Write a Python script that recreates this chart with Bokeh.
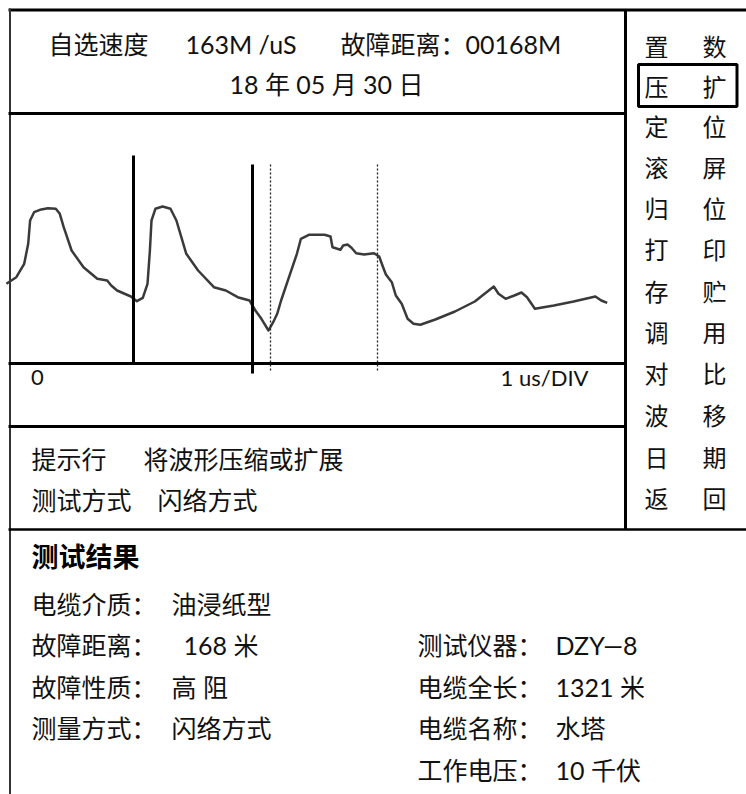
from bokeh.plotting import figure
from bokeh.models import Range1d
from bokeh.embed import file_html
from bokeh.resources import INLINE
from bokeh.core.properties import value

# ---------------- data ----------------
speed_text = "163M /uS"
fault_distance_text = "00168M"
date_year, date_month, date_day = "18", "05", "30"

menu_left = ["置", "压", "定", "滚", "归", "打", "存", "调", "对", "波", "日", "返"]
menu_right = ["数", "扩", "位", "屏", "位", "印", "贮", "用", "比", "移", "期", "回"]

# waveform: sample position and amplitude above the baseline
wave_x = [5.9, 15.8, 23.7, 27.7, 29.6, 33.6, 39.5, 47.4, 55.3, 59.3, 63.2, 71.1, 83.0, 96.8,
          106.7, 110.7, 116.6, 130.4, 136.4, 142.3, 147.0, 149.4, 151.0, 154.9, 162.1, 170.0,
          175.9, 185.8, 197.6, 213.4, 225.3, 237.2, 249.0, 254.9, 260.9, 268.0, 272.7, 276.7,
          280.6, 288.5, 296.4, 300.4, 308.3, 324.1, 330.0, 332.0, 339.9, 342.7, 347.0, 351.0,
          355.7, 363.6, 373.5, 378.7, 382.6, 385.4, 391.3, 395.3, 401.2, 407.1, 413.0, 419.8,
          434.8, 454.5, 474.3, 493.3, 498.0, 505.1, 513.8, 521.0, 526.5, 534.4, 553.4, 573.1,
          594.9, 600.8, 606.7]
wave_amp = [79.7, 86.3, 99.7, 119.7, 143.0, 151.3, 153.7, 155.3, 154.7, 149.7, 136.3, 113.0,
            96.3, 84.7, 83.0, 78.0, 73.0, 67.0, 62.3, 65.7, 79.7, 113.0, 143.0, 154.7, 157.0,
            154.7, 143.0, 109.7, 93.0, 76.3, 73.0, 66.3, 63.0, 53.0, 44.7, 33.0, 41.3, 49.7,
            63.0, 86.3, 109.7, 124.7, 128.7, 128.7, 127.0, 116.3, 113.7, 118.0, 119.0, 115.7,
            110.3, 109.0, 110.3, 107.0, 96.3, 89.0, 81.3, 68.0, 59.7, 44.7, 39.7, 38.7, 44.0,
            52.0, 62.0, 77.0, 69.7, 64.7, 68.0, 71.0, 66.3, 54.7, 58.0, 62.0, 67.0, 63.0, 60.7]

cursor_solid = [133, 252]
cursor_dotted = [270, 377]

axis_start_label = "0"
axis_scale_label = "1 us/DIV"

hint_label = "提示行"
hint_text = "将波形压缩或扩展"
mode_label = "测试方式"
mode_text = "闪络方式"

result_title = "测试结果"
left_labels = ["电缆介质：", "故障距离：", "故障性质：", "测量方式："]
left_values = ["油浸纸型", "168 米", "高  阻", "闪络方式"]
right_labels = ["测试仪器：", "电缆全长：", "电缆名称：", "工作电压："]
right_values = ["DZY—8", "1321 米", "水塔", "10 千伏"]

# ---------------- figure ----------------
W, H = 746, 794
p = figure(width=W, height=H, output_backend="svg", toolbar_location=None,
           x_range=Range1d(0, W), y_range=Range1d(H, 0),
           x_axis_type=None, y_axis_type=None, min_border=0,
           outline_line_color=None, background_fill_color="white")
p.grid.visible = False

BASE = 363
p.extra_y_ranges = {"amp": Range1d(BASE - H, BASE)}

FONT = "Lato, 'Noto Sans CJK SC', sans-serif"
CJK = "'Noto Sans CJK SC', sans-serif"


def txt(x, y, s, size=25, align="left", bold=False, font=FONT, color="#111111"):
    p.text(x=[x], y=[y], text=[s], text_font=value(font), text_font_size=f"{size}px",
           text_align=align, text_baseline="middle", text_color=color,
           text_font_style="bold" if bold else "normal")


def hline(y, x0, x1, w=3, color="black"):
    p.line([x0, x1], [y, y], line_width=w, line_color=color)


def vline(x, y0, y1, w=3, color="black", dash="solid"):
    p.line([x, x], [y0, y1], line_width=w, line_color=color, line_dash=dash)


# frame lines
hline(9.5, 8, 746, 3)
vline(9.5, 8, 794, 2, color="#333333")
vline(625, 9, 529, 3)
hline(113, 8, 625, 3)
hline(363, 8, 625, 3)
hline(426, 8, 625, 3)
hline(529, 8, 746, 2.5)

# selected menu box
p.quad(left=[638], right=[736.5], top=[64], bottom=[106], fill_color=None,
       line_color="black", line_width=3)

# header
txt(48, 43, "自选速度")
txt(185, 43, speed_text)
txt(340, 43, "故障距离：" + fault_distance_text)
txt(326, 83, f"{date_year} 年 {date_month} 月 {date_day} 日", align="center")

# menu
menu_y = [45, 85, 125, 166, 207, 248, 290, 331, 372, 414, 456, 497]
for yy, a, b in zip(menu_y, menu_left, menu_right):
    txt(656, yy, a, size=24, align="center", font=CJK)
    txt(714, yy, b, size=24, align="center", font=CJK)

# waveform
p.line(wave_x, wave_amp, y_range_name="amp", line_color="#3a3a3a", line_width=2.5,
       line_join="round")
vline(cursor_solid[0], 155, 363, 3)
vline(cursor_solid[1], 164, 373, 3)
for cx in cursor_dotted:
    vline(cx, 164, 370, 1.3, color="#222222", dash="2 2")

txt(37, 377, axis_start_label, size=22, align="center")
txt(588, 377, axis_scale_label, size=22, align="right")

# hint lines
txt(31, 458, hint_label)
txt(143, 458, hint_text)
txt(31, 499, mode_label)
txt(157, 499, mode_text)

# results
txt(31, 556, result_title, size=27, bold=True, color="black")
left_y = [603, 644, 686, 727]
for i, (yy, a, b) in enumerate(zip(left_y, left_labels, left_values)):
    txt(31, yy, a)
    txt(183 if i == 1 else 171, yy, b)
right_y = [644, 686, 727, 769]
for yy, a, b in zip(right_y, right_labels, right_values):
    txt(417, yy, a)
    txt(555, yy, b)

open("out.html", "w").write(file_html(p, INLINE))
